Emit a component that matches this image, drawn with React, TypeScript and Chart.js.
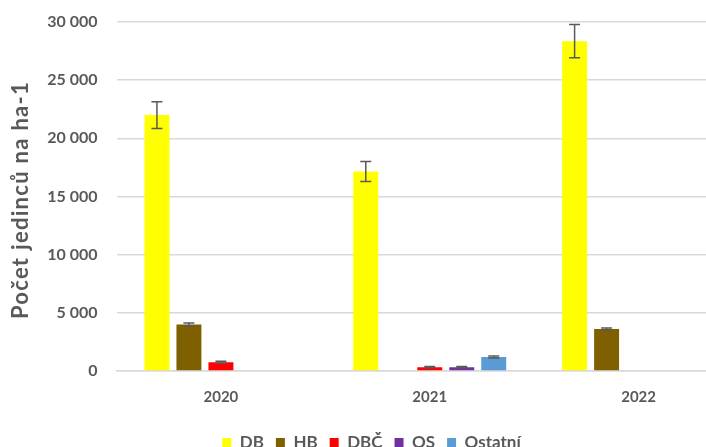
import React, { useEffect, useRef } from "react";
import { Chart, registerables } from "chart.js";

Chart.register(...registerables);

const categories = ["2020", "2021", "2022"];
const seriesNames = ["DB", "HB", "DBČ", "OS", "Ostatní"];
const dbValues = [22000, 17150, 28350];
const hbValues = [4000, null, 3600];
const dbcValues = [750, 330, null];
const osValues = [null, 330, null];
const ostatniValues = [null, 1200, null];
const dbErrors = [1150, 860, 1430];
const hbErrors = [120, null, 100];
const dbcErrors = [80, 60, null];
const osErrors = [null, 60, null];
const ostatniErrors = [null, 80, null];
const yTicks = [0, 5000, 10000, 15000, 20000, 25000, 30000];
const colors = ["#FFFF00", "#7F6000", "#FF0000", "#7030A0", "#5B9BD5"];
const yTitle = "Počet jedinců na ha-1";

const allValues = [dbValues, hbValues, dbcValues, osValues, ostatniValues];
const allErrors = [dbErrors, hbErrors, dbcErrors, osErrors, ostatniErrors];

const FONT = "Lato, 'Open Sans', sans-serif";
const TEXT = "#595959";

const errorBarPlugin = {
  id: "errorBars",
  afterDatasetsDraw(chart: any) {
    const ctx = chart.ctx;
    const yScale = chart.scales.y;
    ctx.save();
    ctx.strokeStyle = "#595959";
    ctx.lineWidth = 1.5;
    chart.data.datasets.forEach((ds: any, di: number) => {
      const meta = chart.getDatasetMeta(di);
      const errs = allErrors[di];
      meta.data.forEach((el: any, i: number) => {
        const v = ds.data[i];
        const e = errs[i];
        if (v == null || e == null) return;
        const x = el.x;
        const yt = yScale.getPixelForValue(v + e);
        const yb = yScale.getPixelForValue(v - e);
        const cap = 5.5;
        ctx.beginPath();
        ctx.moveTo(x, yt);
        ctx.lineTo(x, yb);
        ctx.moveTo(x - cap, yt);
        ctx.lineTo(x + cap, yt);
        ctx.moveTo(x - cap, yb);
        ctx.lineTo(x + cap, yb);
        ctx.stroke();
      });
    });
    ctx.restore();
  },
};

const yTitlePlugin = {
  id: "yTitle",
  afterDraw(chart: any) {
    const ctx = chart.ctx;
    ctx.save();
    ctx.translate(21, 200);
    ctx.rotate(-Math.PI / 2);
    ctx.fillStyle = TEXT;
    ctx.font = `bold 22px ${FONT}`;
    (ctx as any).letterSpacing = "1.3px";
    ctx.textAlign = "center";
    ctx.textBaseline = "middle";
    ctx.fillText(yTitle, 0, 0);
    ctx.restore();
  },
};

function formatTick(v: number) {
  return String(v).replace(/\B(?=(\d{3})+(?!\d))/g, " ");
}

export default function App() {
  const ref = useRef<HTMLCanvasElement>(null);
  useEffect(() => {
    if (!ref.current) return;
    const chart = new Chart(ref.current, {
      type: "bar",
      data: {
        labels: categories,
        datasets: seriesNames.map((name, i) => ({
          label: name,
          data: allValues[i],
          backgroundColor: colors[i],
          borderWidth: 0,
          categoryPercentage: 0.766,
          barPercentage: 0.78,
        })),
      },
      options: {
        responsive: false,
        animation: false,
        layout: { padding: { top: 22, right: 2, left: 0, bottom: 0 } },
        plugins: {
          tooltip: { enabled: false },
          legend: {
            position: "bottom",
            labels: {
              boxWidth: 9,
              boxHeight: 9,
              color: TEXT,
              font: { family: FONT, size: 17, weight: "bold" },
              padding: 12,
            },
          },
        },
        scales: {
          x: {
            grid: { display: false, drawTicks: false },
            border: { display: true, color: "#d9d9d9", width: 1.5 },
            ticks: {
              color: TEXT,
              font: { family: FONT, size: 15, weight: "bold" },
              padding: 17,
            },
            afterFit(scale: any) {
              scale.height = 51;
            },
          },
          y: {
            min: 0,
            max: 30000,
            afterBuildTicks(scale: any) {
              scale.ticks = yTicks.map((v) => ({ value: v }));
            },
            grid: {
              color: "#d9d9d9",
              lineWidth: 1.5,
              drawTicks: true,
              tickLength: 16,
              tickColor: "rgba(0,0,0,0)",
            },
            border: { display: false },
            ticks: {
              color: TEXT,
              font: { family: FONT, size: 16, weight: "bold" },
              padding: 3,
              callback: (v: any) => formatTick(Number(v)),
            },
            afterFit(scale: any) {
              scale.width = 116.5;
            },
          },
        },
      },
      plugins: [errorBarPlugin, yTitlePlugin],
    } as any);
    return () => chart.destroy();
  }, []);
  return (
    <div
      style={{
        position: "fixed",
        left: 0,
        top: 0,
        width: 706,
        height: 447,
        overflow: "hidden",
        background: "#fff",
      }}
    >
      <canvas
        ref={ref}
        width={745}
        height={461}
        style={{ position: "absolute", left: 0, top: 0, width: 745, height: 461 }}
      />
    </div>
  );
}
